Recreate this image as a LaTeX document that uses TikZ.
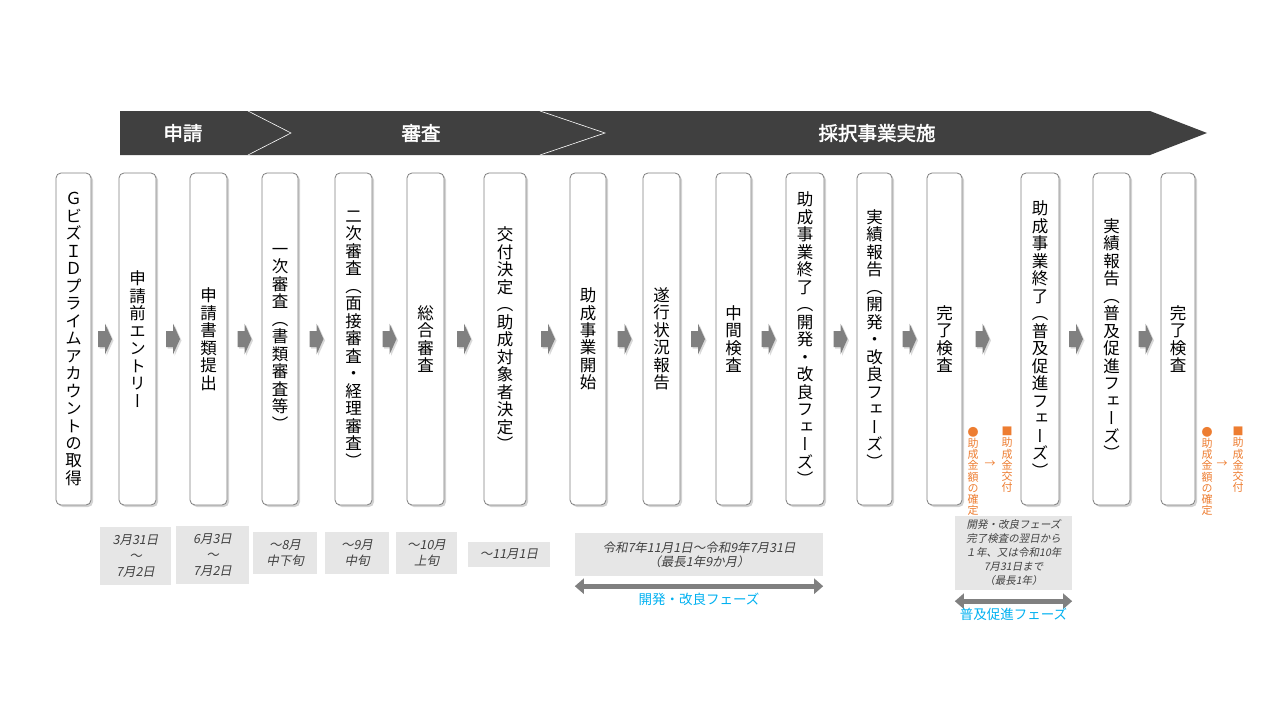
\documentclass[tikz,border=0pt]{standalone}
\usepackage{fontspec}
\setmainfont{Noto Sans CJK JP}
\newfontfamily\tatefont[RawFeature={+vert}]{Noto Sans CJK JP}
\newfontfamily\slantfont[FakeSlant=0.2]{Noto Sans CJK JP}
\newfontfamily\heavyfont[FakeBold=2]{Noto Sans CJK JP}
\usepackage{tikz}
\usetikzlibrary{calc,shadows,arrows.meta}

\definecolor{bannergray}{HTML}{404040}
\definecolor{arrowgray}{HTML}{808080}
\definecolor{framegray}{HTML}{7F7F7F}
\definecolor{datefill}{HTML}{E6E6E6}
\definecolor{dategray}{HTML}{404040}
\definecolor{noteorange}{HTML}{ED7D31}
\definecolor{phasecyan}{HTML}{00B0F0}

% vertical text: one character per line
\makeatletter
\newcommand\tate[1]{\vbox{\lineskiplimit=-\maxdimen\tate@next#1\@nil}}
\def\tate@next#1{\ifx\@nil#1\else\hbox to 1em{\hss#1\hss}\expandafter\tate@next\fi}
\makeatother

\tikzset{
	stepbox/.style={draw=framegray, line width=.8pt, fill=white, rounded corners=5pt,
		minimum height=332pt, inner sep=0pt, text=black,
		drop shadow={shadow xshift=2pt, shadow yshift=-2pt, opacity=.35},
		font=\tatefont\fontsize{16.5}{17.5}\selectfont},
	stepar/.pic={
		\fill[arrowgray, drop shadow={shadow xshift=1.5pt, shadow yshift=-1.5pt, opacity=.3}]
			(-7,-8) -- (0,-8) -- (0,-15.5) -- (7,0) -- (0,15.5) -- (0,8) -- (-7,8) -- cycle;
	},
	phasehead/.style={text=white, font=\heavyfont\fontsize{19.5}{22}\selectfont},
	datebox/.style={fill=datefill, inner sep=0pt, align=center, text=dategray,
		font=\slantfont\fontsize{12.5}{16}\selectfont},
	phasearrow/.style={arrowgray, line width=5pt,
		{Triangle[length=9pt,width=15pt]}-{Triangle[length=9pt,width=15pt]}},
	phaselabel/.style={text=phasecyan, inner sep=1pt, font=\fontsize{13.5}{15}\selectfont},
	notetate/.style={text=noteorange, inner sep=0pt, anchor=north,
		font=\tatefont\fontsize{11}{11.2}\selectfont},
	notetext/.style={text=noteorange, inner sep=0pt, font=\fontsize{11}{11.2}\selectfont}
}

\begin{document}
\begin{tikzpicture}[x=1pt, y=-1pt]
	\useasboundingbox (0,0) rectangle (1280,720);

	% banner
	\fill[bannergray] (120,111) -- (1150,111) -- (1207,133) -- (1150,155) -- (120,155) -- cycle;
	\draw[white, line width=.6pt] (248,111) -- (291,133) -- (248,155);
	\draw[white, line width=.6pt] (540,111) -- (605,133) -- (540,155);
	\node[phasehead] (hd1) at (183,133) {申請};
	\node[phasehead] (hd2) at (421,133) {審査};
	\node[phasehead] (hd3) at (877,133) {採択事業実施};

	% steps
	\node[stepbox, minimum width=35] (b1) at (73.5,339) {\tate{ＧビズＩＤプライムアカウントの取得}};
	\node[stepbox, minimum width=37] (b2) at (137.5,339) {\tate{申請前エントリー}};
	\node[stepbox, minimum width=37] (b3) at (208.5,339) {\tate{申請書類提出}};
	\node[stepbox, minimum width=36] (b4) at (280,339) {\tate{一次審査（書類審査等）}};
	\node[stepbox, minimum width=37] (b5) at (353.5,339) {\tate{二次審査（面接審査・経理審査）}};
	\node[stepbox, minimum width=37] (b6) at (425.5,339) {\tate{総合審査}};
	\node[stepbox, minimum width=42] (b7) at (505,339) {\tate{交付決定（助成対象者決定）}};
	\node[stepbox, minimum width=36] (b8) at (588,339) {\tate{助成事業開始}};
	\node[stepbox, minimum width=37] (b9) at (661.5,339) {\tate{遂行状況報告}};
	\node[stepbox, minimum width=35] (b10) at (733.5,339) {\tate{中間検査}};
	\node[stepbox, minimum width=38] (b11) at (805,339) {\tate{助成事業終了（開発・改良フェーズ）}};
	\node[stepbox, minimum width=35] (b12) at (874.5,339) {\tate{実績報告（開発・改良フェーズ）}};
	\node[stepbox, minimum width=35] (b13) at (944.5,339) {\tate{完了検査}};
	\node[stepbox, minimum width=38] (b14) at (1040,339) {\tate{助成事業終了（普及促進フェーズ）}};
	\node[stepbox, minimum width=37] (b15) at (1111.5,339) {\tate{実績報告（普及促進フェーズ）}};
	\node[stepbox, minimum width=34] (b16) at (1178,339) {\tate{完了検査}};

	\foreach \a/\b in {b1/b2,b2/b3,b3/b4,b4/b5,b5/b6,b6/b7,b7/b8,b8/b9,b9/b10,b10/b11,b11/b12,b12/b13,b14/b15,b15/b16}
		\path ($(\a.east)!.5!(\b.west)$) pic {stepar};
	\path ($(b13.east)!.5!(b14.west)$) ++(-9,0) pic {stepar};

	% notes
	\node[notetate] (n1) at (973,427) {\tate{●助成金額の確定}};
	\node[notetext] (n2) at (990,464) {→};
	\node[notetate] (n3) at (1007,427) {\tate{■助成金交付}};
	\node[notetate] (n4) at (1207,427) {\tate{●助成金額の確定}};
	\node[notetext] (n5) at (1222,464) {→};
	\node[notetate] (n6) at (1238,427) {\tate{■助成金交付}};

	% dates
	\node[datebox, minimum width=71, minimum height=58] (d1) at (135.5,556) {3月31日\\～\\7月2日};
	\node[datebox, minimum width=73, minimum height=58] (d2) at (212.5,555) {6月3日\\～\\7月2日};
	\node[datebox, minimum width=64, minimum height=42] (d3) at (285,553) {～8月\\中下旬};
	\node[datebox, minimum width=64, minimum height=42] (d4) at (357,553) {～9月\\中旬};
	\node[datebox, minimum width=61, minimum height=42] (d5) at (426.5,553) {～10月\\上旬};
	\node[datebox, minimum width=82, minimum height=25] (d6) at (509,554.5) {～11月1日};
	\node[datebox, minimum width=248, minimum height=43, font=\slantfont\fontsize{12.5}{14}\selectfont] (d7) at (699,554.5)
		{令和7年11月1日～令和9年7月31日\\（最長1年9か月）};
	\node[datebox, minimum width=117, minimum height=74, font=\slantfont\fontsize{10.5}{14}\selectfont] (d8) at (1013.5,553)
		{開発・改良フェーズ\\完了検査の翌日から\\１年、又は令和10年\\7月31日まで\\（最長1年）};

	\draw[phasearrow] ([yshift=-10pt]d7.south west) -- ([yshift=-10pt]d7.south east)
		node[phaselabel, midway, below=3pt] (p1) {開発・改良フェーズ};
	\draw[phasearrow] ([yshift=-11pt]d8.south west) -- ([yshift=-11pt]d8.south east)
		node[phaselabel, midway, below=3pt] (p2) {普及促進フェーズ};
\end{tikzpicture}
\end{document}
